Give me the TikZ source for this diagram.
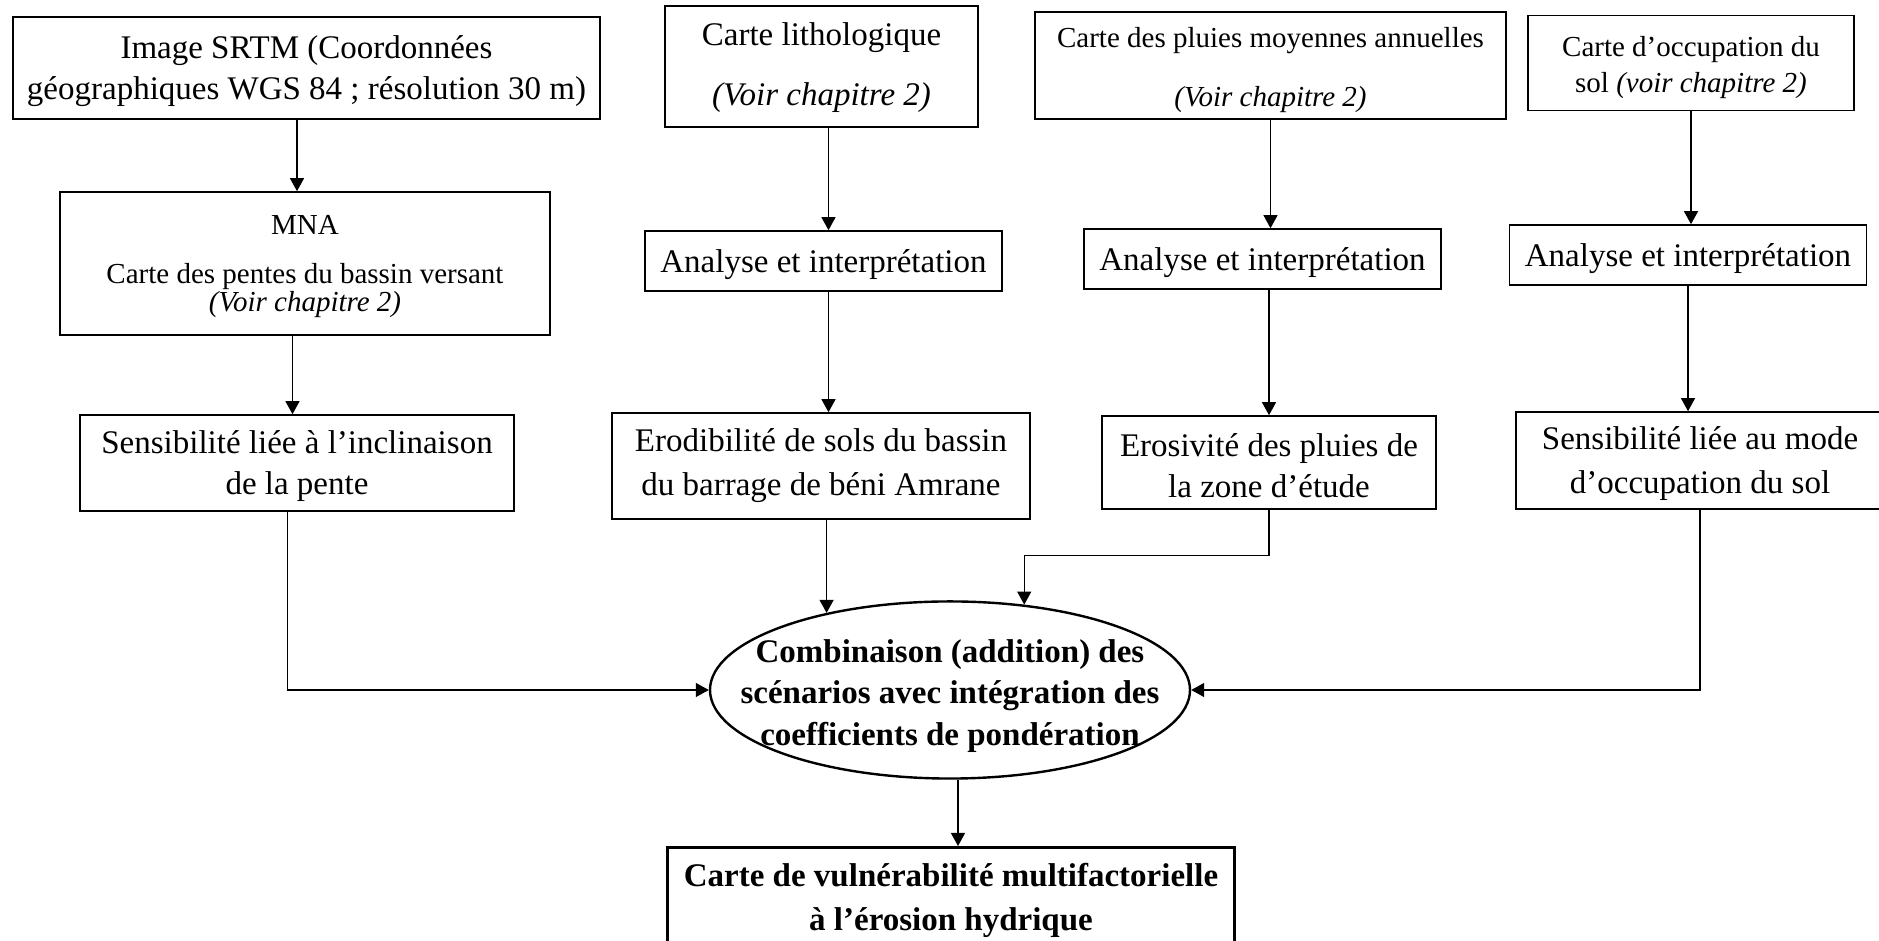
\documentclass[tikz,border=0pt]{standalone}
\usepackage{fontspec}
\setmainfont{Liberation Serif}
\usetikzlibrary{arrows.meta,shapes.geometric,calc}

\newcommand{\policegrande}{\fontsize{16.5}{20.5}\selectfont}
\newcommand{\policepetite}{\fontsize{14.5}{18}\selectfont}
\newcommand{\cale}{\rule{0pt}{15pt}}
\newcommand{\calepetite}{\rule{0pt}{13pt}}

\begin{document}
\begin{tikzpicture}[x=0.5pt, y=0.5pt,
  boite/.style={draw, rectangle, line width=0.8pt, align=center, inner sep=0pt, font=\policegrande},
  fleche/.style={-{Triangle[length=6.5pt,width=7pt]}, line width=0.6pt}]

\useasboundingbox (0,0) rectangle (1879,941);
\clip (0,0) rectangle (1879,941);

% Image SRTM
\node[boite, minimum width=293.5pt, minimum height=51pt] (srtm) at (306.5,873) {\cale Image SRTM (Coordonnées\\géographiques WGS 84 ; résolution 30 m)};

% Carte lithologique
\node[boite, minimum width=156.5pt, minimum height=60.5pt] (litho) at (821.5,874.5) {\calepetite Carte lithologique\\[9.5pt]\textit{(Voir chapitre 2)}};

% Carte des pluies
\node[boite, font=\policepetite, minimum width=235.5pt, minimum height=53.5pt] (pluies) at (1270.5,875.5) {\cale Carte des pluies moyennes annuelles\\[11.5pt]\textit{(Voir chapitre 2)}};

% Carte d'occupation du sol
\node[boite, font=\policepetite, minimum width=163pt, minimum height=47.5pt] (occup) at (1691,878) {\cale Carte d’occupation du\\sol \textit{(voir chapitre 2)}};

% MNA
\node[boite, font=\policepetite, minimum width=245pt, minimum height=71.5pt] (mna) at (305,677.5) {\calepetite MNA\\[6.5pt]Carte des pentes du bassin versant\\[-4pt]\textit{(Voir chapitre 2)}};

% Analyses
\node[boite, minimum width=178.5pt, minimum height=30pt] (ana1) at (823.5,680) {\cale Analyse et interprétation};
\node[boite, minimum width=178.5pt, minimum height=30pt] (ana2) at (1262.5,682) {\cale Analyse et interprétation};
\node[boite, minimum width=178.5pt, minimum height=30pt] (ana3) at (1688,686) {\cale Analyse et interprétation};

% Facteurs
\node[boite, minimum width=217pt, minimum height=48pt] (senspente) at (297,478) {\cale Sensibilité liée à l’inclinaison\\de la pente};
\node[boite, minimum width=209pt, minimum height=53pt] (erod) at (821,475) {Erodibilité de sols du bassin\\[1.5pt]du barrage de béni Amrane};
\node[boite, minimum width=167pt, minimum height=46.5pt] (erosiv) at (1269,478.5) {\cale Erosivité des pluies de\\la zone d’étude};
\node[boite, minimum width=184pt, minimum height=48.5pt] (sensmode) at (1700,480.5) {\cale Sensibilité liée au mode\\[1.5pt]d’occupation du sol};

% Combinaison
\node[draw, ellipse, line width=1.2pt, align=center, font=\policegrande\bfseries, minimum width=240pt, minimum height=87pt, inner xsep=-20pt, inner ysep=0pt] (comb) at (950,251) {\rule{0pt}{17.5pt}Combinaison (addition) des\\[0.3pt]scénarios avec intégration des\\[0.3pt]coefficients de pondération};

% Carte finale
\node[boite, line width=1.4pt, font=\policegrande\bfseries, minimum width=283.5pt, minimum height=52pt, anchor=north] (carte) at (951,95) {\calepetite Carte de vulnérabilité multifactorielle\\[1.5pt]à l’érosion hydrique};

% Fleches - pente
\draw[fleche] ($(srtm.south)+(-9.5,0)$) -- ($(srtm.south |- mna.north)+(-9.5,0)$);
\draw[fleche] ($(mna.south)+(-12.5,0)$) -- ($(mna.south |- senspente.north)+(-12.5,0)$);
\draw[fleche] ($(senspente.south)+(-9.5,0)$) |- (comb.west);

% Fleches - lithologie
\draw[fleche] ($(litho.south)+(7,0)$) -- ($(litho.south |- ana1.north)+(7,0)$);
\draw[fleche] ($(ana1.south)+(5,0)$) -- ($(ana1.south |- erod.north)+(5,0)$);
\draw[fleche] (erod.south -| comb.148) -- (comb.148);

% Fleches - pluies
\draw[fleche] (pluies.south) -- (pluies.south |- ana2.north);
\draw[fleche] ($(ana2.south)+(6.5,0)$) -- ($(ana2.south |- erosiv.north)+(6.5,0)$);
\draw[fleche] (erosiv.south) -- ++(0,-46) -| (comb.49);

% Fleches - occupation du sol
\draw[fleche] (occup.south) -- (occup.south |- ana3.north);
\draw[fleche] (ana3.south) -- (ana3.south |- sensmode.north);
\draw[fleche] (sensmode.south) |- (comb.east);

% Fleche - sortie
\draw[fleche] ($(comb.south)+(8,0)$) -- ($(comb.south |- carte.north)+(8,0)$);

\end{tikzpicture}
\end{document}
